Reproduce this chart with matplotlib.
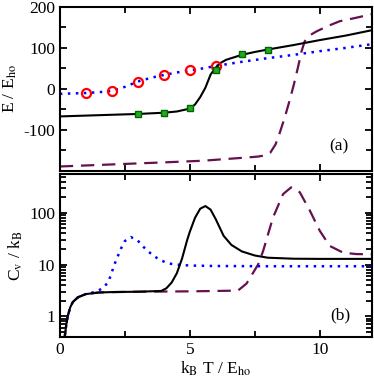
import matplotlib
matplotlib.use("Agg")
import matplotlib.pyplot as plt
from matplotlib.ticker import MultipleLocator, FixedLocator, LogLocator, NullFormatter

plt.rcParams['font.family'] = ['Liberation Serif', 'DejaVu Serif']
plt.rcParams['mathtext.fontset'] = 'stix'
plt.rcParams['font.size'] = 12
plt.rcParams['axes.unicode_minus'] = False

# ---- panel (a): energy ----
t_solid_a = [0, 1, 2, 3, 4, 4.5, 5.0, 5.2, 5.4, 5.6, 5.8, 6.0, 6.2, 6.4, 6.7, 7, 7.5, 8, 9, 10, 11, 12]
e_solid_a = [-67, -65, -63, -61, -58, -55, -48, -38, -20, 3, 35, 52, 64, 71, 77, 83, 90, 96, 107, 119, 130, 143]

t_dot_a = [0, 0.5, 1, 1.5, 2, 2.5, 3, 3.5, 4, 4.5, 5, 5.5, 6, 7, 8, 9, 10, 11, 12]
e_dot_a = [-12, -11, -10, -8, -5, 5, 18, 27, 34, 40, 45, 50, 56, 66, 75, 83, 92, 100, 109]

t_dash_a = [0, 2, 4, 5.5, 7, 7.6, 7.9, 8.1, 8.3, 8.46, 8.65, 8.85, 9.0, 9.17, 9.3, 9.42, 9.6, 9.87, 10.3,
            10.77, 11.3, 12]
e_dash_a = [-189, -184, -179, -175, -168, -165, -162, -155, -135, -107, -70, -26, 10, 55, 92, 116, 130, 140,
            153, 165, 172, 182]

t_circ = [1, 2, 3, 4, 5, 6]
e_circ = [-10, -6, 18, 35, 45, 56]

t_sq = [3, 4, 5, 6, 7, 8]
e_sq = [-60, -58, -47, 45, 84, 96]

# ---- panel (b): heat capacity ----
t_solid_b = [0.15, 0.2, 0.25, 0.3, 0.4, 0.5, 0.7, 1.0, 1.5, 2, 3, 3.9, 4.1, 4.3, 4.5, 4.7, 4.9, 5.0, 5.2, 5.4,
             5.6, 5.8, 6.0, 6.3, 6.6, 7.0, 7.5, 8, 9, 10, 11, 12]
c_solid_b = [0.3, 0.45, 0.7, 1.0, 1.5, 1.9, 2.35, 2.7, 2.9, 2.95, 3.0, 3.1, 3.5, 4.5, 6.8, 13, 30, 43, 80, 120,
             135, 115, 75, 36, 24, 18, 15, 13.6, 13, 12.9, 12.9, 12.9]

t_dot_b = [0.15, 0.2, 0.25, 0.3, 0.4, 0.5, 0.7, 1.0, 1.4, 1.67, 1.86, 1.96, 2.05, 2.15, 2.37, 2.5, 2.73, 2.99,
           3.18, 3.4, 3.62, 3.85, 4.13, 4.4, 5, 6, 8, 10, 12]
c_dot_b = [0.3, 0.45, 0.7, 1.0, 1.5, 1.9, 2.35, 2.7, 3.0, 3.56, 4.6, 6.2, 8.5, 11.7, 21.3, 28.5, 34, 29.5,
           22.9, 18, 14.6, 12.4, 10.7, 10.1, 9.6, 9.4, 9.3, 9.3, 9.3]

t_dash_b = [0.15, 0.2, 0.25, 0.3, 0.4, 0.5, 0.7, 1.0, 1.5, 2, 3, 5, 6.85, 7.18, 7.4, 7.63, 7.82, 8.2, 8.59, 8.9,
            9.23, 9.62, 10.0, 10.38, 10.9, 11.4, 12]
c_dash_b = [0.3, 0.45, 0.7, 1.0, 1.5, 1.9, 2.35, 2.7, 2.9, 2.95, 3.0, 3.05, 3.15, 4.3, 6.5, 10.1, 18.3, 81, 230, 310,
            250, 110, 45, 23, 17, 16, 15.8]

e_ticks = [-100, 0, 100, 200]
c_ticks = [1, 10, 100]
c_ticklabels = ['1', '10', '100']

maroon = '#66104f'
dash = (0, (6, 3.5))
dots = (0, (1, 2.2))

fig = plt.figure(figsize=(3.74, 3.80), dpi=100)
ax1 = fig.add_axes([0.160, 0.550, 0.834, 0.432])
ax2 = fig.add_axes([0.160, 0.113, 0.834, 0.429])

ax1.plot(t_dash_a, e_dash_a, color=maroon, lw=1.6, linestyle=dash)
ax1.plot(t_dot_a, e_dot_a, color='#0000ff', lw=1.8, linestyle=dots)
ax1.plot(t_solid_a, e_solid_a, color='black', lw=1.5)
ax1.plot(t_circ, e_circ, linestyle='none', marker='o', ms=6.5, mfc='none', mec='#ff0000', mew=1.6)
ax1.plot(t_sq, e_sq, linestyle='none', marker='s', ms=5, mfc='#22aa22', mec='#006400', mew=1.0)

ax2.plot(t_dash_b, c_dash_b, color=maroon, lw=1.6, linestyle=dash)
ax2.plot(t_dot_b, c_dot_b, color='#0000ff', lw=1.8, linestyle=dots)
ax2.plot(t_solid_b, c_solid_b, color='black', lw=1.5)
ax2.set_yscale('log')

ax1.set_xlim(0, 12)
ax1.set_ylim(-200, 200)
ax1.yaxis.set_major_locator(FixedLocator(e_ticks))
ax1.yaxis.set_minor_locator(MultipleLocator(50))
ax2.set_xlim(0, 12)
ax2.set_ylim(0.4, 560)
ax2.yaxis.set_major_locator(FixedLocator(c_ticks))
ax2.set_yticklabels(c_ticklabels)
ax2.yaxis.set_minor_locator(LogLocator(base=10, subs=range(2, 10)))
ax2.yaxis.set_minor_formatter(NullFormatter())

for ax in (ax1, ax2):
    ax.xaxis.set_major_locator(MultipleLocator(5))
    ax.xaxis.set_minor_locator(MultipleLocator(2.5))
    ax.tick_params(which='both', direction='in', top=True, right=True, width=1.3, labelsize=12.5)
    ax.tick_params(which='major', length=5)
    ax.tick_params(which='minor', length=4.5)
    for s in ax.spines.values():
        s.set_linewidth(1.5)

ax1.tick_params(labelbottom=False)
ax1.set_ylabel(r'E / E$_{\mathrm{ho}}$', fontsize=12.5, labelpad=3)
ax2.set_ylabel(r'C$_{\mathrm{v}}$ / k$_{\mathrm{B}}$', fontsize=12.5, labelpad=3)
ax2.set_xlabel(r'k$_{\mathrm{B}}$ T / E$_{\mathrm{ho}}$', fontsize=12.5, labelpad=1)

ax1.text(0.895, 0.15, '(a)', transform=ax1.transAxes, ha='center', va='center', fontsize=12.5)
ax2.text(0.9, 0.135, '(b)', transform=ax2.transAxes, ha='center', va='center', fontsize=12.5)

fig.savefig('out.png', dpi=100)
